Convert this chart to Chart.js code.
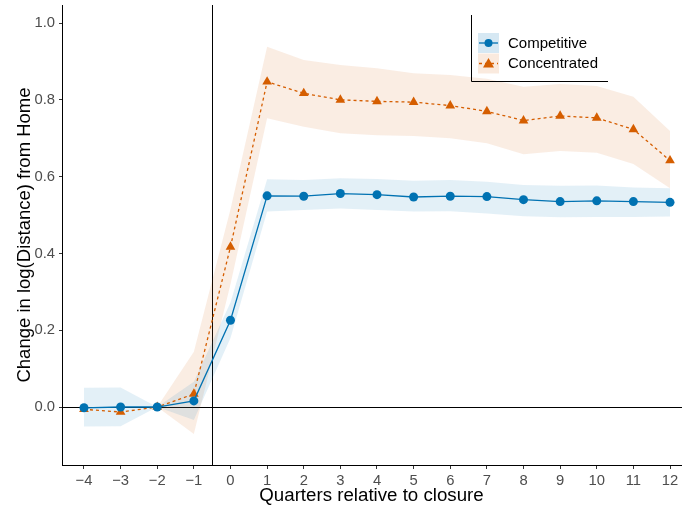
<!DOCTYPE html>
<html><head><meta charset="utf-8">
<script src="https://cdn.jsdelivr.net/npm/chart.js@4/dist/chart.umd.min.js"></script>
<style>html,body{margin:0;padding:0;background:#fff}#wrap{width:682px;height:507px}</style>
</head><body><div id="wrap"><canvas id="c" width="682" height="507"></canvas></div>
<script>
const quarters = [-4,-3,-2,-1,0,1,2,3,4,5,6,7,8,9,10,11,12];
const competitive   = [-0.002,0.000,0.000,0.016,0.226,0.550,0.549,0.556,0.553,0.547,0.549,0.548,0.540,0.535,0.537,0.535,0.533];
const competitiveLo = [-0.051,-0.050,0.000,-0.034,0.180,0.509,0.513,0.517,0.513,0.509,0.510,0.504,0.497,0.494,0.495,0.495,0.496];
const competitiveHi = [0.050,0.051,0.000,0.066,0.272,0.593,0.591,0.596,0.594,0.589,0.591,0.587,0.578,0.576,0.577,0.572,0.570];
const concentrated   = [-0.006,-0.013,0.000,0.034,0.417,0.847,0.817,0.800,0.796,0.794,0.785,0.770,0.746,0.758,0.753,0.723,0.642];
const concentratedLo = [null,null,0.000,-0.070,0.320,0.752,0.730,0.713,0.708,0.706,0.700,0.687,0.658,0.667,0.662,0.633,0.570];
const concentratedHi = [null,null,0.000,0.144,0.515,0.938,0.904,0.891,0.882,0.869,0.865,0.855,0.834,0.841,0.836,0.808,0.719];
const xTicks = [-4,-3,-2,-1,0,1,2,3,4,5,6,7,8,9,10,11,12];
const yTicks = [0.0,0.2,0.4,0.6,0.8,1.0];
const seriesNames = ['Competitive','Concentrated'];
const closureLine = -0.5;

const FONT = '"Liberation Sans", Arial, Helvetica, sans-serif';
const BLUE = '#0072B2', ORANGE = '#D55E00';
const BLUE_FILL = 'rgba(0,114,178,0.11)', ORANGE_FILL = 'rgba(213,94,0,0.11)';
const pts = arr => quarters.map((q,i)=>({x:q,y:arr[i]}));

const refLines = {
  id:'refLines',
  beforeDatasetsDraw(chart){
    const {ctx, chartArea:a, scales:{x,y}} = chart;
    ctx.save();
    ctx.strokeStyle='#000'; ctx.lineWidth=1;
    const px = Math.round(x.getPixelForValue(closureLine))+0.5;
    const py = Math.round(y.getPixelForValue(0))+0.5;
    ctx.beginPath(); ctx.moveTo(px,a.top); ctx.lineTo(px,a.bottom); ctx.stroke();
    ctx.beginPath(); ctx.moveTo(a.left,py); ctx.lineTo(a.right+1,py); ctx.stroke();
    ctx.restore();
  }
};

const legendBox = {
  id:'legendBox',
  afterDraw(chart){
    const ctx = chart.ctx;
    ctx.save();
    ctx.strokeStyle='#000'; ctx.lineWidth=1;
    ctx.beginPath(); ctx.moveTo(471.5,15); ctx.lineTo(471.5,81.5); ctx.lineTo(608,81.5); ctx.stroke();
    const rows = [
      {name:seriesNames[0], color:BLUE, fill:'rgba(0,114,178,0.16)', style:'circle', dash:[], cy:43},
      {name:seriesNames[1], color:ORANGE, fill:'rgba(213,94,0,0.13)', style:'triangle', dash:[3,3], cy:63.5}
    ];
    rows.forEach(r=>{
      ctx.fillStyle=r.fill; ctx.fillRect(478, r.cy-10, 21, 20);
      ctx.strokeStyle=r.color; ctx.lineWidth=1.3; ctx.setLineDash(r.dash);
      ctx.beginPath(); ctx.moveTo(479,r.cy); ctx.lineTo(498,r.cy); ctx.stroke();
      ctx.setLineDash([]);
      ctx.fillStyle=r.color;
      if(r.style==='circle'){ ctx.beginPath(); ctx.arc(488.5,r.cy,4,0,Math.PI*2); ctx.fill(); }
      else { ctx.beginPath(); ctx.moveTo(488.5,r.cy-5.5); ctx.lineTo(494,r.cy+4); ctx.lineTo(483,r.cy+4); ctx.closePath(); ctx.fill(); }
      ctx.fillStyle='#000'; ctx.font='15px '+FONT; ctx.textBaseline='middle'; ctx.textAlign='left';
      ctx.fillText(r.name, 508, r.cy+0.5);
    });
    ctx.restore();
  }
};

const fmtX = v => (v<0 ? '\u2212'+Math.abs(v) : String(v));

new Chart(document.getElementById('c'), {
  type:'line',
  data:{datasets:[
    {label:seriesNames[0], data:pts(competitive), borderColor:BLUE, backgroundColor:BLUE, borderWidth:1.3,
     pointStyle:'circle', pointRadius:4.5, pointBorderWidth:0, fill:false, order:0},
    {label:seriesNames[1], data:pts(concentrated), borderColor:ORANGE, backgroundColor:ORANGE, borderWidth:1.3,
     borderDash:[3,3], pointStyle:'triangle', pointRadius:5.6, pointBorderWidth:0, fill:false, order:1},
    {label:'compHi', data:pts(competitiveHi), borderColor:'transparent', borderWidth:0, pointRadius:0,
     backgroundColor:BLUE_FILL, fill:{target:3}, order:2},
    {label:'compLo', data:pts(competitiveLo), borderColor:'transparent', borderWidth:0, pointRadius:0, fill:false, order:3},
    {label:'concHi', data:pts(concentratedHi), borderColor:'transparent', borderWidth:0, pointRadius:0,
     backgroundColor:ORANGE_FILL, fill:{target:5}, order:4},
    {label:'concLo', data:pts(concentratedLo), borderColor:'transparent', borderWidth:0, pointRadius:0, fill:false, order:5}
  ]},
  options:{
    responsive:false, animation:false, devicePixelRatio:1,
    layout:{autoPadding:false, padding:{top:5,right:1,left:0,bottom:0}},
    plugins:{legend:{display:false}, tooltip:{enabled:false}},
    elements:{line:{tension:0}},
    scales:{
      x:{type:'linear', min:-4.6, max:12.3,
         afterBuildTicks(s){ s.ticks = xTicks.map(v=>({value:v})); },
         afterFit(s){ s.height = 42; s.paddingLeft = 0; s.paddingRight = 0; },
         ticks:{callback:v=>fmtX(v), color:'#4d4d4d', font:{size:14.8, family:FONT}, padding:3, maxRotation:0, autoSkip:false},
         grid:{display:true, drawOnChartArea:false, drawTicks:true, tickLength:4, tickColor:'#333', tickWidth:1},
         border:{display:true, color:'#000', width:1},
         title:{display:true, text:'Quarters relative to closure', color:'#000', font:{size:18.7, family:FONT}, padding:{top:0,bottom:0}}
      },
      y:{type:'linear', min:-0.151, max:1.047,
         afterBuildTicks(s){ s.ticks = yTicks.map(v=>({value:v})); },
         afterFit(s){ s.width = 62; s.paddingTop = 0; s.paddingBottom = 0; },
         ticks:{callback:v=>Number(v).toFixed(1), color:'#4d4d4d', font:{size:14.8, family:FONT}, padding:4},
         grid:{display:true, drawOnChartArea:false, drawTicks:true, tickLength:3, tickColor:'#333', tickWidth:1},
         border:{display:true, color:'#000', width:1},
         title:{display:true, text:'Change in log(Distance) from Home', color:'#000', font:{size:18.5, family:FONT}, padding:{top:14,bottom:0}}
      }
    }
  },
  plugins:[refLines, legendBox]
});
</script>
</body></html>
